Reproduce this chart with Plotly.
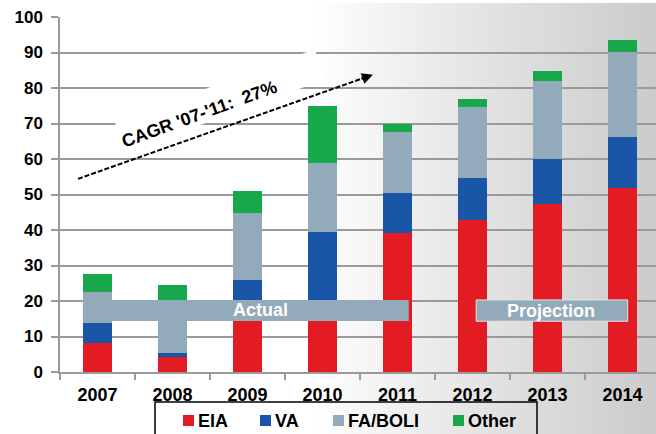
import base64
import struct
import zlib

import plotly.graph_objects as go

# ---- data (USD bn) ----
years = ["2007", "2008", "2009", "2010", "2011", "2012", "2013", "2014"]
eia = [8.1, 4.3, 17.0, 17.0, 39.1, 42.8, 47.2, 51.7]
va = [5.8, 1.0, 8.9, 22.5, 11.2, 11.9, 12.9, 14.6]
fa_boli = [8.6, 15.0, 19.0, 19.3, 17.2, 19.9, 21.9, 23.8]
other = [5.0, 4.2, 6.2, 16.1, 2.4, 2.4, 2.8, 3.3]

series_names = ["EIA", "VA", "FA/BOLI", "Other"]
series_values = [eia, va, fa_boli, other]
series_colors = ["#e31b23", "#1a56a8", "#93aabb", "#16a84a"]

y_ticks = list(range(0, 101, 10))
cagr_label = "CAGR '07-'11:\u00a0\u00a027%"

# ---- geometry helpers ----
W, H = 656, 434
ML, MR, MT, MB = 60, 0, 17, 62
PW, PH = W - ML - MR, H - MT - MB
FONT = "Liberation Sans, Arial, sans-serif"
GRID = "#9a9a9a"


def px_x(px):
    return (px - ML) / PW


def px_y(py):
    return (H - MB - py) / PH


def gradient_png(width):
    """One-row PNG: white on the left fading to light grey on the right."""
    row = bytearray([0])
    start = 315
    for i in range(width):
        t = max(0.0, (i - start) / (width - start))
        v = int(round(255 - 52 * t ** 0.9))
        row += bytes([v, v, v])

    def chunk(tag, data):
        return (struct.pack(">I", len(data)) + tag + data
                + struct.pack(">I", zlib.crc32(tag + data) & 0xFFFFFFFF))

    png = (b"\x89PNG\r\n\x1a\n"
           + chunk(b"IHDR", struct.pack(">IIBBBBB", width, 1, 8, 2, 0, 0, 0))
           + chunk(b"IDAT", zlib.compress(bytes(row)))
           + chunk(b"IEND", b""))
    return "data:image/png;base64," + base64.b64encode(png).decode()


fig = go.Figure()

for name, vals, col in zip(series_names, series_values, series_colors):
    fig.add_trace(go.Bar(
        x=years, y=vals, name=name, width=0.39,
        marker=dict(color=col, line=dict(width=0)),
        hoverinfo="x+y+name",
    ))

# background gradient
fig.add_layout_image(
    source=gradient_png(W), xref="paper", yref="paper",
    x=px_x(0), y=px_y(3), sizex=W / PW, sizey=(H - 3) / PH,
    xanchor="left", yanchor="top", sizing="stretch", layer="below",
)

shapes = []
annotations = []

# "Actual" / "Projection" banners across the bars
banner_col = "#93aabb"
shapes.append(dict(type="rect", xref="x", yref="y", x0=-0.195, x1=4.15,
                   y0=14.4, y1=20.3, fillcolor=banner_col,
                   line=dict(width=0), layer="above"))
shapes.append(dict(type="rect", xref="x", yref="y", x0=5.05, x1=7.07,
                   y0=14.3, y1=20.3, fillcolor=banner_col,
                   line=dict(width=1, color="#dfe5ea"), layer="above"))
annotations.append(dict(x=2.18, y=17.35, xref="x", yref="y", text="Actual",
                        showarrow=False,
                        font=dict(family=FONT, size=18, color="white", weight="bold")))
annotations.append(dict(x=6.05, y=17.3, xref="x", yref="y", text="Projection",
                        showarrow=False,
                        font=dict(family=FONT, size=18, color="white", weight="bold")))

# CAGR trend arrow and label
shapes.append(dict(type="line", xref="x", yref="y", x0=-0.26, y0=54.4,
                   x1=3.6, y1=83.2, line=dict(color="black", width=2, dash="5px,2px"),
                   layer="above"))
annotations.append(dict(x=3.673, y=83.7, ax=3.50, ay=82.45, xref="x", yref="y",
                        axref="x", ayref="y", text="", showarrow=True,
                        arrowhead=2, arrowsize=1.1, arrowwidth=2,
                        arrowcolor="black", standoff=0))
annotations.append(dict(x=1.64, y=76.6, xref="x", yref="y", text=cagr_label,
                        showarrow=False, textangle=-20, width=212, height=31,
                        align="left", valign="bottom", bgcolor="white",
                        borderpad=0,
                        font=dict(family=FONT, size=18, color="black", weight="bold")))

# legend box (open at the bottom edge of the page)
shapes.append(dict(type="rect", xref="paper", yref="paper",
                   x0=px_x(155), x1=px_x(537), y0=px_y(402), y1=px_y(450),
                   line=dict(color="black", width=1.5), fillcolor="rgba(0,0,0,0)"))
swatch_x = [183, 260, 333, 453]
for name, col, sx in zip(series_names, series_colors, swatch_x):
    shapes.append(dict(type="rect", xref="paper", yref="paper",
                       x0=px_x(sx), x1=px_x(sx + 11), y0=px_y(426), y1=px_y(415),
                       fillcolor=col, line=dict(width=0)))
    annotations.append(dict(x=px_x(sx + 13), y=px_y(421), xref="paper", yref="paper",
                            xanchor="left", yanchor="middle", text=name,
                            showarrow=False,
                            font=dict(family=FONT, size=18, color="black", weight="bold")))

fig.update_layout(
    width=W, height=H,
    margin=dict(l=ML, r=MR, t=MT, b=MB, pad=0),
    barmode="stack",
    showlegend=False,
    paper_bgcolor="white",
    plot_bgcolor="rgba(0,0,0,0)",
    shapes=shapes,
    annotations=annotations,
    xaxis=dict(
        type="category", range=[-0.5, 7.447], tickson="boundaries",
        ticks="outside", ticklen=6, tickwidth=1.5, tickcolor=GRID,
        showline=True, linecolor=GRID, linewidth=1.5, showgrid=False,
        ticklabelstandoff=6,
        tickfont=dict(family=FONT, size=18, color="black", weight="bold"),
    ),
    yaxis=dict(
        range=[0, 100], tickvals=y_ticks, showgrid=True, gridcolor=GRID,
        gridwidth=1.5, zeroline=False, ticks="outside", ticklen=7,
        tickwidth=1.5, tickcolor=GRID, showline=True, linecolor=GRID,
        linewidth=1.5, ticklabelstandoff=5,
        tickfont=dict(family=FONT, size=17, color="black", weight="bold"),
    ),
)

fig.write_html("out.html")
